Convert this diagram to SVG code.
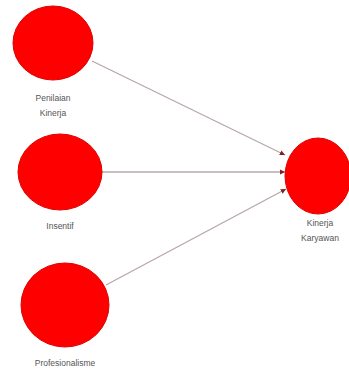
<svg xmlns="http://www.w3.org/2000/svg" width="349" height="373" viewBox="0 0 349 373">
<defs>
<style>
.n{fill:#ff0000;stroke:#e00000;stroke-width:1}
.t{font-family:"Liberation Sans",Arial,sans-serif;font-size:8.5px;fill:#555;text-anchor:middle}
.c{stroke:#b8a8a8;stroke-width:1.3;fill:none;marker-end:url(#a)}
</style>
<marker id="a" viewBox="0 0 6 6" refX="6" refY="3" markerWidth="4" markerHeight="4" orient="auto">
<path d="M0,0 L6,3 L0,6 Z" fill="#802020"/>
</marker>
</defs>
<rect width="349" height="373" fill="#fff"/>
<g id="connectors">
<line class="c" x1="92" y1="61" x2="285" y2="155"/>
<line class="c" x1="102" y1="172" x2="285" y2="172"/>
<line class="c" x1="106" y1="285" x2="286" y2="189"/>
</g>
<g id="penilaian">
<ellipse class="n" cx="53" cy="43" rx="40" ry="37"/>
<text class="t" x="53" y="101">Penilaian</text>
<text class="t" x="53" y="116">Kinerja</text>
</g>
<g id="insentif">
<ellipse class="n" cx="60" cy="172" rx="42" ry="38"/>
<text class="t" x="60" y="229">Insentif</text>
</g>
<g id="profesionalisme">
<ellipse class="n" cx="65" cy="305" rx="44" ry="42"/>
<text class="t" x="65" y="366">Profesionalisme</text>
</g>
<g id="kinerja-karyawan">
<ellipse class="n" cx="318" cy="176" rx="33" ry="38"/>
<text class="t" x="320" y="226">Kinerja</text>
<text class="t" x="320" y="241">Karyawan</text>
</g>
</svg>
